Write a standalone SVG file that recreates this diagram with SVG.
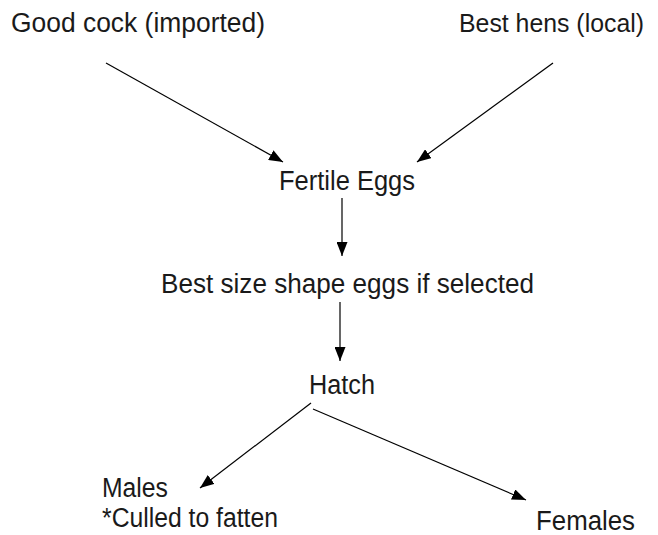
<svg xmlns="http://www.w3.org/2000/svg" width="658" height="535" viewBox="0 0 658 535">
<defs>
<marker id="ah" viewBox="0 0 14 11" refX="14" refY="5.5" markerWidth="14" markerHeight="11" markerUnits="userSpaceOnUse" orient="auto">
<path d="M0,0 L14,5.5 L0,11 Z" fill="#000"/>
</marker>
<style>
text{font-family:"Liberation Sans",Arial,sans-serif;font-size:27px;fill:#1a1a1a}
.c line{stroke:#000;stroke-width:1.2;marker-end:url(#ah)}
</style>
</defs>
<rect width="658" height="535" fill="#fff"/>
<g id="cock"><text x="11" y="32" textLength="254" lengthAdjust="spacingAndGlyphs">Good cock (imported)</text></g>
<g id="hens"><text x="459" y="32" style="font-size:26px" textLength="185" lengthAdjust="spacingAndGlyphs">Best hens (local)</text></g>
<g id="fertile"><text x="279" y="190" textLength="136" lengthAdjust="spacingAndGlyphs">Fertile Eggs</text></g>
<g id="best"><text x="161" y="293" textLength="373" lengthAdjust="spacingAndGlyphs">Best size shape eggs if selected</text></g>
<g id="hatch"><text x="309" y="394" textLength="66" lengthAdjust="spacingAndGlyphs">Hatch</text></g>
<g id="males"><text x="102" y="497" textLength="66" lengthAdjust="spacingAndGlyphs">Males</text><text x="102" y="527" textLength="176" lengthAdjust="spacingAndGlyphs">*Culled to fatten</text></g>
<g id="females"><text x="536" y="530" textLength="99" lengthAdjust="spacingAndGlyphs">Females</text></g>
<g class="c">
<line x1="106" y1="63" x2="283" y2="162"/>
<line x1="553" y1="63" x2="417" y2="162"/>
<line x1="342" y1="198" x2="342" y2="256"/>
<line x1="340" y1="302" x2="340" y2="361"/>
<line x1="311" y1="403" x2="200" y2="488"/>
<line x1="313" y1="409" x2="526" y2="500"/>
</g>
</svg>
